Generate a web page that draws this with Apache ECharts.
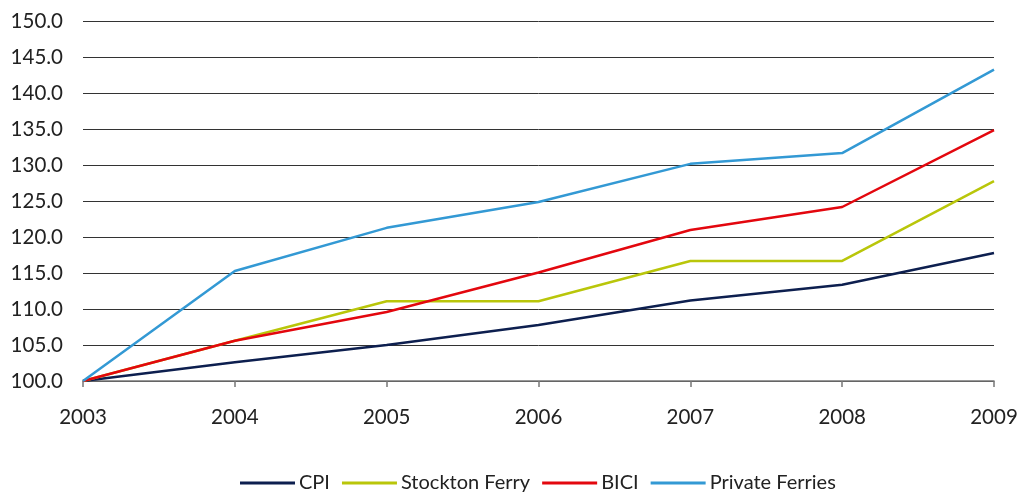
<!DOCTYPE html>
<html>
<head>
<meta charset="utf-8">
<script src="https://cdn.jsdelivr.net/npm/echarts@6/dist/echarts.min.js"></script>
<style>
  html, body { margin: 0; padding: 0; background: #fff; }
  #chart { width: 1024px; height: 492px; }
</style>
</head>
<body>
<div id="chart"></div>
<script>
// years on the x axis
var years = ["2003", "2004", "2005", "2006", "2007", "2008", "2009"];
// index values (2003 = 100)
var cpi = [100.0, 102.6, 105.0, 107.8, 111.2, 113.4, 117.8];
var stocktonFerry = [100.0, 105.6, 111.1, 111.1, 116.7, 116.7, 127.8];
var bici = [100.0, 105.6, 109.6, 115.1, 121.0, 124.2, 134.9];
var privateFerries = [100.0, 115.3, 121.3, 124.9, 130.2, 131.7, 143.3];

var font = "Lato";

var chart = echarts.init(document.getElementById("chart"));

function line(name, data, color) {
  return {
    name: name,
    type: "line",
    data: data,
    symbol: "none",
    lineStyle: { color: color, width: 2.5 },
    itemStyle: { color: color }
  };
}

var option = {
  animation: false,
  textStyle: { fontFamily: font },
  grid: { left: 83, right: 30, top: 21.5, bottom: 111 },
  legend: {
    top: 468,
    left: 235,
    itemWidth: 55,
    itemHeight: 3,
    itemGap: 12,
    icon: "rect",
    textStyle: { fontFamily: font, fontSize: 20, color: "#222", padding: [0, 0, 0, -1] },
    data: ["CPI", "Stockton Ferry", "BICI", "Private Ferries"]
  },
  xAxis: {
    type: "category",
    data: years,
    boundaryGap: false,
    axisLine: { lineStyle: { color: "#777", width: 1.5 } },
    axisTick: { show: true, length: 6, lineStyle: { color: "#777", width: 1.5 } },
    axisLabel: { fontFamily: font, fontSize: 20.5, color: "#222", margin: 26 }
  },
  yAxis: {
    type: "value",
    min: 100,
    max: 150,
    interval: 5,
    axisLine: { show: false },
    axisTick: { show: false },
    axisLabel: {
      fontFamily: font, fontSize: 20.5, color: "#222", margin: 20,
      formatter: function (v) { return v.toFixed(1); }
    },
    splitLine: { lineStyle: { color: "#333", width: 1 } }
  },
  series: [
    line("CPI", cpi, "#0d1f4f"),
    line("Stockton Ferry", stocktonFerry, "#b9c60a"),
    line("BICI", bici, "#e3070e"),
    line("Private Ferries", privateFerries, "#3399d4")
  ]
};

chart.setOption(option);
</script>
</body>
</html>
